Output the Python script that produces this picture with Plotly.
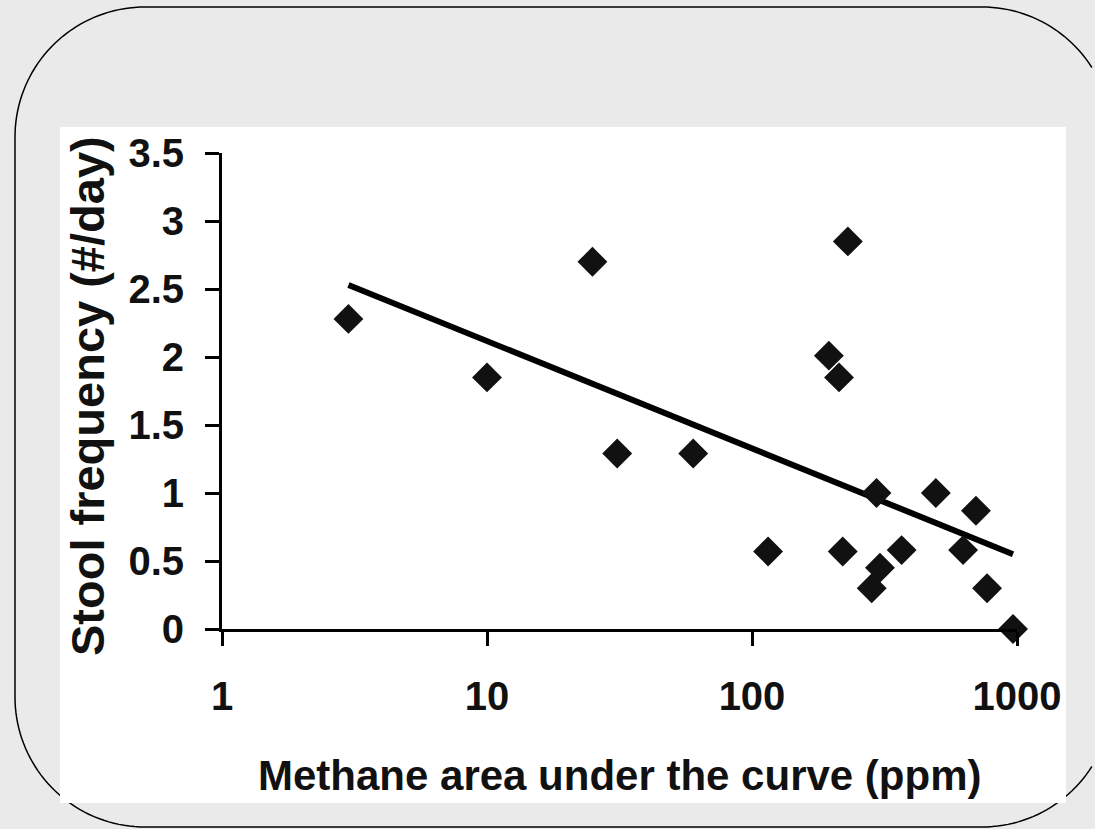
import numpy as np
import plotly.graph_objects as go

# ---- data ----
methane_auc = [3, 10, 25, 31, 60, 115, 195, 213, 230, 220, 283, 295, 304, 367, 494, 626, 700, 771, 966]
stool_freq = [2.28, 1.85, 2.70, 1.29, 1.29, 0.57, 2.01, 1.85, 2.85, 0.57, 0.30, 1.00, 0.45, 0.58, 1.00, 0.58, 0.87, 0.30, 0.0]
trend_x = [3, 966]
trend_y = [2.53, 0.55]
x_tick_vals = [1, 10, 100, 1000]
x_tick_text = ["1", "10", "100", "1000"]
y_tick_vals = [0, 0.5, 1, 1.5, 2, 2.5, 3, 3.5]
y_tick_text = ["0", "0.5", "1", "1.5", "2", "2.5", "3", "3.5"]
x_title = "Methane area under the curve (ppm)"
y_title = "Stool frequency (#/day)"

W, H = 1095, 829
L, R, T, B = 222, 1017, 153, 629  # plot area in pixels


def px(x):
    return (x - L) / (R - L)


def py(y):
    return (B - y) / (B - T)


FONT = "Liberation Sans, Arial, Helvetica, sans-serif"
INK = "#111111"

fig = go.Figure()
fig.add_trace(go.Scatter(
    x=trend_x, y=trend_y, mode="lines",
    line=dict(color="black", width=6),
    hoverinfo="skip", showlegend=False,
))
fig.add_trace(go.Scatter(
    x=methane_auc, y=stool_freq, mode="markers",
    marker=dict(symbol="diamond", size=23, color=INK, line=dict(width=0)),
    cliponaxis=False, showlegend=False,
))

# rounded frame: two open polylines, only the part inside the page
x0, x1, y0, y1, r = 15, 1112, 7, 827, 130


def arc(cx, cy, a0, a1, n=40):
    return [(cx + r * np.cos(t), cy + r * np.sin(t)) for t in np.linspace(a0, a1, n)]


pts = (arc(x1 - r, y0 + r, 0, -np.pi / 2)
       + arc(x0 + r, y0 + r, -np.pi / 2, -np.pi)
       + arc(x0 + r, y1 - r, np.pi, np.pi / 2)
       + arc(x1 - r, y1 - r, np.pi / 2, 0))
pts = [(x, y) for x, y in pts if x <= W - 1]
path = "M " + " L ".join(f"{px(x):.5f},{py(y):.5f}" for x, y in pts)

shapes = [
    dict(type="path", path=path, xref="paper", yref="paper",
         line=dict(color="black", width=1.5), layer="below"),
    dict(type="rect", xref="paper", yref="paper",
         x0=px(60), x1=px(1066), y0=py(803), y1=py(127),
         fillcolor="white", line=dict(width=0), layer="below"),
]

annotations = [
    dict(text=x_title, xref="paper", yref="paper", x=0.5, y=py(775),
         xanchor="center", yanchor="middle", showarrow=False,
         font=dict(family=FONT, size=42, color=INK, weight="bold")),
    dict(text=y_title, xref="paper", yref="paper", x=px(87), y=py(396),
         xanchor="center", yanchor="middle", textangle=-90, showarrow=False,
         font=dict(family=FONT, size=47, color=INK, weight="bold")),
]

axis_common = dict(
    showline=True, linewidth=3, linecolor="black",
    ticks="outside", ticklen=14, tickwidth=3, tickcolor="black",
    showgrid=False, zeroline=False,
    tickfont=dict(family=FONT, size=40, color=INK, weight="bold"),
)

fig.update_layout(
    width=W, height=H,
    margin=dict(l=L, r=W - R, t=T, b=H - B, pad=0),
    paper_bgcolor="#eaeaea",
    plot_bgcolor="white",
    xaxis=dict(type="log", range=[0, 3], tickvals=x_tick_vals, ticktext=x_tick_text,
               ticklabelstandoff=16, **axis_common),
    yaxis=dict(range=[0, 3.5], tickvals=y_tick_vals, ticktext=y_tick_text,
               ticklabelstandoff=13, **axis_common),
    shapes=shapes,
    annotations=annotations,
    showlegend=False,
)

fig.write_html("out.html")
